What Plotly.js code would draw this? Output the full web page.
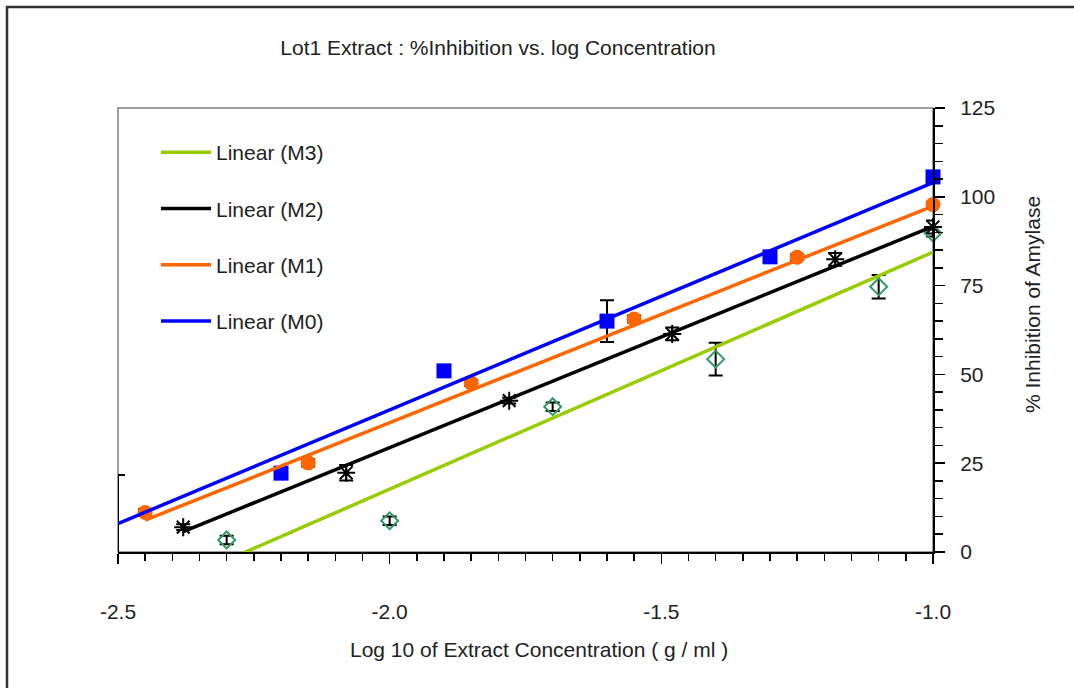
<!DOCTYPE html>
<html>
<head>
<meta charset="utf-8">
<script src="https://cdn.plot.ly/plotly-3.0.1.min.js"></script>
<style>
  html, body { margin: 0; padding: 0; background: #ffffff; }
  #chart { width: 1074px; height: 688px; }
</style>
</head>
<body>
<div id="chart"></div>
<script>
// Log10 concentration (g/ml) and % inhibition for each extract lot fraction
const seriesNames = ['M0', 'M1', 'M2', 'M3'];

const xM0 = [-2.5, -2.2, -1.9, -1.6, -1.3, -1.0];
const yM0 = [-3.5, 22.2, 51.0, 65.0, 83.1, 105.6];
const eM0 = [25.2, 1.0, 1.0, 5.9, 1.0, 1.3];

const xM1 = [-2.45, -2.15, -1.85, -1.55, -1.25, -1.0];
const yM1 = [11.1, 25.1, 47.6, 65.6, 83.0, 97.8];
const eM1 = [1.0, 1.0, 0.8, 1.0, 0.8, 0.8];

const xM2 = [-2.38, -2.08, -1.78, -1.48, -1.18, -1.0];
const yM2 = [7.0, 22.3, 42.6, 61.4, 82.4, 91.5];
const eM2 = [0.8, 2.2, 0.8, 1.8, 1.8, 1.8];

const xM3 = [-2.3, -2.0, -1.7, -1.4, -1.1, -1.0];
const yM3 = [3.4, 8.8, 40.9, 54.3, 74.7, 89.8];
const eM3 = [1.2, 1.2, 1.2, 4.6, 3.3, 1.0];

// Linear trendline coefficients: y = intercept + slope * x
const trendSlope     = [64.0, 61.0, 62.3, 66.7];
const trendIntercept = [168.0, 158.4, 154.0, 151.1];

const xTickVals = [-2.5, -2.0, -1.5, -1.0];
const xTickText = ['-2.5', '-2.0', '-1.5', '-1.0'];
const yTickVals = [0, 25, 50, 75, 100, 125];
const yRange = [0, 125];
const xRange = [-2.5, -1.0];

const FONT = 'Liberation Sans, Arial, sans-serif';
const TEXT = '#222222';

const xs = [xM0, xM1, xM2, xM3];
const ys = [yM0, yM1, yM2, yM3];
const es = [eM0, eM1, eM2, eM3];

const markerStyles = [
  { symbol: 'square', size: 15, color: '#0000FF' },
  { symbol: 'circle', size: 15, color: '#FF6600' },
  { symbol: 'asterisk-open', size: 15, color: '#000000', line: { color: '#000000', width: 2 } },
  { symbol: 'diamond-open', size: 13, color: '#339966', line: { color: '#339966', width: 2 } }
];
const lineColors = ['#0000FF', '#FF6600', '#000000', '#99CC00'];

const traces = [];

// error bars first so the markers sit on top of them
[3, 2, 1, 0].forEach(i => {
  traces.push({
    type: 'scatter', mode: 'markers',
    x: xs[i], y: ys[i],
    showlegend: false,
    marker: { size: 1, opacity: 0 },
    error_y: { type: 'data', array: es[i], visible: true, color: '#000000', thickness: 2, width: 7 },
    hoverinfo: 'skip'
  });
});

// measured points; a point below the axis range is not shown
[3, 2, 1, 0].forEach(i => {
  const m = Object.assign({}, markerStyles[i]);
  m.opacity = ys[i].map(v => (v < yRange[0] ? 0 : 1));
  traces.push({
    type: 'scatter', mode: 'markers',
    x: xs[i], y: ys[i],
    name: seriesNames[i],
    showlegend: false,
    cliponaxis: false,
    marker: m,
    hoverinfo: 'x+y'
  });
});

// linear trendlines over each series' concentration range
[3, 2, 1, 0].forEach(i => {
  const x0 = Math.min(...xs[i]);
  const x1 = Math.max(...xs[i]);
  traces.push({
    type: 'scatter', mode: 'lines',
    x: [x0, x1],
    y: [trendIntercept[i] + trendSlope[i] * x0, trendIntercept[i] + trendSlope[i] * x1],
    name: 'Linear (' + seriesNames[i] + ')',
    legendgroup: 'g' + i,
    line: { color: lineColors[i], width: 3.5 },
    hoverinfo: 'skip'
  });
});

// plot area and outer frame, in paper units derived from the margins
const L = 118, R = 141, T = 108, B = 136, W = 1074, H = 688;
const pw = W - L - R, ph = H - T - B;
const px = p => (p - L) / pw;
const py = p => (H - B - p) / ph;

const layout = {
  width: W, height: H,
  margin: { l: L, r: R, t: T, b: B, pad: 0 },
  paper_bgcolor: '#ffffff',
  plot_bgcolor: '#ffffff',
  font: { family: FONT, size: 21, color: TEXT },
  title: {
    text: 'Lot1 Extract : %Inhibition vs. log Concentration',
    font: { family: FONT, size: 21, color: TEXT },
    xref: 'container', x: 498 / W, xanchor: 'center',
    yref: 'container', y: 1 - 48 / H, yanchor: 'middle'
  },
  showlegend: true,
  legend: {
    x: px(156), xanchor: 'left',
    y: py(132), yanchor: 'top',
    bgcolor: 'rgba(0,0,0,0)',
    borderwidth: 0,
    font: { family: FONT, size: 21, color: TEXT },
    traceorder: 'grouped',
    tracegroupgap: 26,
    itemwidth: 50
  },
  xaxis: {
    range: xRange,
    tickvals: xTickVals, ticktext: xTickText,
    ticks: 'outside', ticklen: 10, tickwidth: 1.5, tickcolor: '#000000',
    minor: { dtick: 0.05, tick0: -2.5, ticks: 'outside', ticklen: 7, tickwidth: 1.5, tickcolor: '#000000', showgrid: false },
    showline: true, linecolor: '#000000', linewidth: 2,
    showgrid: false, zeroline: false,
    ticklabelstandoff: 30,
    tickfont: { family: FONT, size: 21, color: TEXT }
  },
  xaxis2: {
    overlaying: 'x', anchor: 'y', side: 'bottom',
    range: xRange,
    tickvals: xTickVals,
    ticks: 'inside', ticklen: 10, tickwidth: 1.5, tickcolor: '#000000',
    showticklabels: false, showline: false, showgrid: false, zeroline: false
  },
  yaxis: {
    side: 'right',
    range: yRange,
    tickvals: yTickVals,
    ticks: 'outside', ticklen: 10, tickwidth: 1.5, tickcolor: '#000000',
    minor: { dtick: 5, tick0: 0, ticks: 'outside', ticklen: 8, tickwidth: 1.5, tickcolor: '#000000', showgrid: false },
    showline: true, linecolor: '#000000', linewidth: 2,
    showgrid: false, zeroline: false,
    ticklabelstandoff: 11,
    tickfont: { family: FONT, size: 21, color: TEXT }
  },
  yaxis2: {
    overlaying: 'y', anchor: 'x', side: 'right',
    range: yRange,
    tickvals: yTickVals,
    ticks: 'inside', ticklen: 10, tickwidth: 1.5, tickcolor: '#000000',
    showticklabels: false, showline: false, showgrid: false, zeroline: false
  },
  annotations: [
    { text: 'Log 10 of Extract Concentration ( g / ml )', xref: 'paper', yref: 'paper',
      x: px(539), y: py(649), xanchor: 'center', yanchor: 'middle', showarrow: false,
      font: { family: FONT, size: 21, color: TEXT } },
    { text: '% Inhibition of Amylase', xref: 'paper', yref: 'paper', textangle: -90,
      x: px(1032), y: py(305), xanchor: 'center', yanchor: 'middle', showarrow: false,
      font: { family: FONT, size: 21, color: TEXT } }
  ],
  shapes: [
    { type: 'rect', xref: 'paper', yref: 'paper', x0: 0, x1: 1, y0: 0, y1: 1,
      line: { color: '#7f7f7f', width: 1.5 }, layer: 'below' },
    { type: 'rect', xref: 'paper', yref: 'paper', x0: px(7), x1: px(W + 20), y0: py(H + 20), y1: py(7),
      line: { color: '#333333', width: 2.5 }, layer: 'below' }
  ]
};

Plotly.newPlot('chart', traces, layout, { displayModeBar: false, staticPlot: true });
</script>
</body>
</html>
